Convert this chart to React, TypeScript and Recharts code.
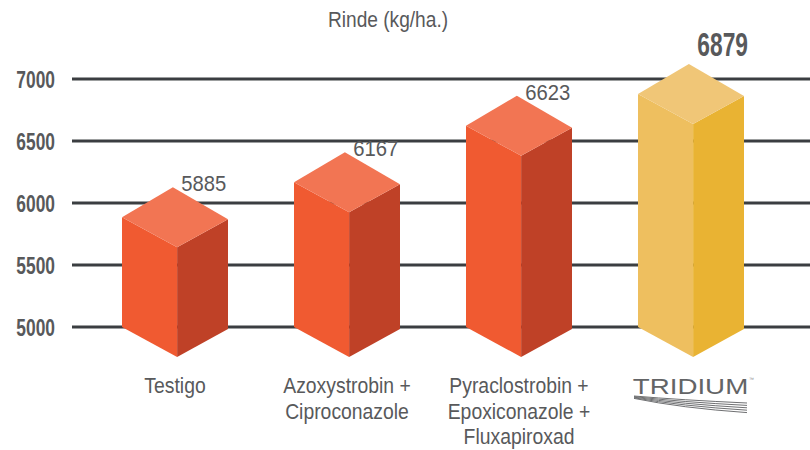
import { BarChart, Bar, XAxis, YAxis, CartesianGrid, LabelList } from 'recharts';

const categories = [
  'Testigo',
  'Azoxystrobin +\nCiproconazole',
  'Pyraclostrobin +\nEpoxiconazole +\nFluxapiroxad',
  'TRIDIUM',
];
const rinde = [5885, 6167, 6623, 6879];
const yTicks = [5000, 5500, 6000, 6500, 7000];
const HIGHLIGHT = 'TRIDIUM';

const data = categories.map((name, i) => ({ name, rinde: rinde[i] }));

const FONT = '"Liberation Sans", Arial, sans-serif';
const GREY = '#58595b';
const ORANGE = { front: '#F05A31', side: '#BF4127', top: '#F27553' };
const GOLD = { front: '#EEBF5F', side: '#E9B333', top: '#F0C677' };

// text squeezed horizontally to mimic the condensed face of the original
const Narrow = ({ x, y, sx, anchor = 'start', children, ...rest }: any) => (
  <text transform={`translate(${x},${y}) scale(${sx},1)`} textAnchor={anchor} fontFamily={FONT} {...rest}>
    {children}
  </text>
);

const Box3D = (props: any) => {
  const { x, y, width, height, index } = props;
  const c = categories[index] === HIGHLIGHT ? GOLD : ORANGE;
  const d = 30;
  const L = x;
  const R = x + width;
  const F = x + width * 0.52;
  const B = x + width * 0.48;
  const yb = y + height;
  return (
    <g>
      <polygon points={`${L},${y} ${F},${y + d} ${F},${yb + d} ${L},${yb}`} fill={c.front} />
      <polygon points={`${F},${y + d} ${R},${y + 2} ${R},${yb + 2} ${F},${yb + d}`} fill={c.side} />
      <polygon points={`${L},${y} ${B},${y - d} ${R},${y + 2} ${F},${y + d}`} fill={c.top} />
    </g>
  );
};

const ValueLabel = (props: any) => {
  const { x, y, width, value, index } = props;
  if (categories[index] === HIGHLIGHT) {
    return (
      <Narrow x={x + width * 0.56} y={y - 38} sx={0.69} fill={GREY} fontSize={33} fontWeight={700}>
        {value}
      </Narrow>
    );
  }
  return (
    <Narrow x={x + width * 0.56} y={y - 26} sx={0.9} fill={GREY} fontSize={22.5}>
      {value}
    </Narrow>
  );
};

const YTick = ({ x, y, payload }: any) => (
  <Narrow x={x} y={y + 9} sx={0.74} anchor="end" fill={GREY} fontSize={23.5} fontWeight={700}>
    {payload.value}
  </Narrow>
);

const XTick = ({ x, y, payload }: any) => {
  if (payload.value === HIGHLIGHT) {
    return (
      <g>
        <Narrow x={x - 0.5} y={y + 67} sx={1.26} anchor="middle" fill="#636466" fontSize={22}>
          TRIDIUM
        </Narrow>
        <text x={x + 58} y={y + 54} fill="#888" fontSize={5} fontFamily={FONT}>
          ™
        </text>
        {[0, 1, 2, 3, 4].map((i) => (
          <path
            key={i}
            d={`M${x - 57},${y + 69 + i * 0.6} Q${x - 10},${y + 73 + i * 2} ${x + 56},${y + 76 + i * 2.4}`}
            stroke="#6f7072"
            strokeWidth={1}
            fill="none"
          />
        ))}
      </g>
    );
  }
  const lines = String(payload.value).split('\n');
  return (
    <g>
      {lines.map((l, i) => (
        <Narrow key={i} x={x} y={y + 66 + i * 25.5} sx={0.88} anchor="middle" fill={GREY} fontSize={22}>
          {l}
        </Narrow>
      ))}
    </g>
  );
};

export default function App() {
  return (
    <div style={{ position: 'absolute', left: 0, top: 0, width: 810, height: 450, background: '#fff' }}>
      <svg width={810} height={40} style={{ position: 'absolute', left: 0, top: 0 }}>
        <Narrow x={388} y={27} sx={0.87} anchor="middle" fill={GREY} fontSize={22}>
          Rinde (kg/ha.)
        </Narrow>
      </svg>
      <BarChart width={810} height={450} data={data} margin={{ top: 79, right: 0, bottom: 0, left: 0 }}>
        <CartesianGrid horizontal vertical={false} stroke="#3b3e41" strokeWidth={3} />
        <XAxis
          dataKey="name"
          height={123}
          axisLine={false}
          tickLine={false}
          tickSize={0}
          tickMargin={0}
          interval={0}
          padding={{ left: 17, right: 33 }}
          tick={<XTick />}
        />
        <YAxis
          width={72}
          domain={[5000, 7000]}
          ticks={yTicks}
          axisLine={false}
          tickLine={false}
          tickMargin={11}
          tick={<YTick />}
        />
        <Bar dataKey="rinde" barSize={106} shape={Box3D} isAnimationActive={false}>
          <LabelList dataKey="rinde" content={ValueLabel} />
        </Bar>
      </BarChart>
    </div>
  );
}
